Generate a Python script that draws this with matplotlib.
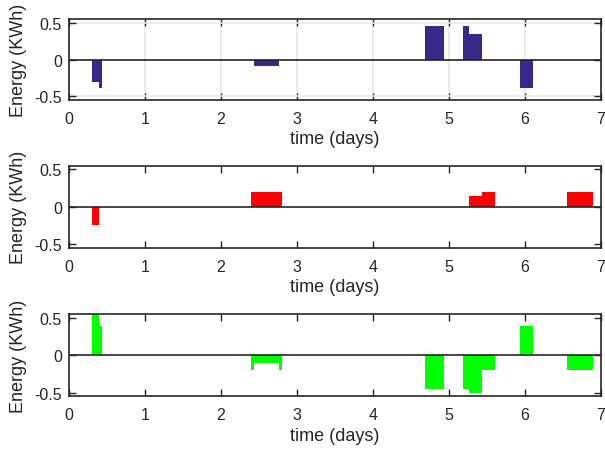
import matplotlib.pyplot as plt
import numpy as np

plt.rcParams['font.family'] = ['Liberation Sans', 'DejaVu Sans']

# hourly bars, each run of equal hours: first hour, last hour, value (kWh)
blue_first = [8, 10, 59, 113, 125, 127, 143]
blue_last = [9, 10, 66, 118, 126, 130, 146]
blue_val = [-0.31, -0.39, -0.09, 0.45, 0.45, 0.34, -0.39]

red_first = [8, 58, 127, 131, 158]
red_last = [9, 67, 130, 134, 165]
red_val = [-0.24, 0.2, 0.15, 0.2, 0.2]

green_first = [8, 10, 58, 59, 67, 113, 125, 127, 131, 143, 158]
green_last = [9, 10, 58, 66, 67, 118, 126, 130, 134, 146, 165]
green_val = [0.55, 0.39, -0.2, -0.11, -0.2, -0.45, -0.45, -0.5, -0.2, 0.39, -0.2]

x_ticks = [0, 1, 2, 3, 4, 5, 6, 7]
y_ticks = [-0.5, 0, 0.5]

series = [
    (blue_first, blue_last, blue_val, (0.21, 0.16, 0.54), True),
    (red_first, red_last, red_val, (1.0, 0.0, 0.0), False),
    (green_first, green_last, green_val, (0.0, 1.0, 0.0), False),
]

fig = plt.figure(figsize=(6.05, 4.52), dpi=100)
rects = [[0.1136, 0.7765, 0.8793, 0.1793],
         [0.1136, 0.4491, 0.8793, 0.1822],
         [0.1136, 0.1210, 0.8793, 0.1821]]
dark = (0.15, 0.15, 0.15)

for rect, (first, last, val, col, grid) in zip(rects, series):
    ax = fig.add_axes(rect)
    hrs, vals = [], []
    for a, b, v in zip(first, last, val):
        for h in range(a, b + 1):
            hrs.append(h)
            vals.append(v)
    hrs = np.array(hrs) / 24.0
    ax.bar(hrs, vals, width=1 / 24, color=col, linewidth=0, zorder=2)
    ax.axhline(0, color=dark, lw=1.2, zorder=3)
    ax.set_xlim(0, 7)
    ax.set_ylim(-0.55, 0.55)
    ax.set_xticks(x_ticks)
    ax.set_yticks(y_ticks)
    ax.set_yticklabels(['-0.5', '0', '0.5'])
    if grid:
        ax.grid(True, color=(0.9, 0.9, 0.9), lw=1.2, zorder=0)
        ax.set_axisbelow(True)
    ax.tick_params(direction='in', top=True, right=True, length=5,
                   width=1, color=dark, labelcolor=dark, labelsize=11.5)
    ax.tick_params(axis='x', pad=8)
    ax.tick_params(axis='y', pad=5)
    for s in ax.spines.values():
        s.set_color(dark)
        s.set_linewidth(1.2)
    ax.set_xlabel('time (days)', fontsize=13, color=dark, labelpad=3)
    ax.set_ylabel('Energy (KWh)', fontsize=13, color=dark, labelpad=5)

fig.savefig('out.png', dpi=100)
